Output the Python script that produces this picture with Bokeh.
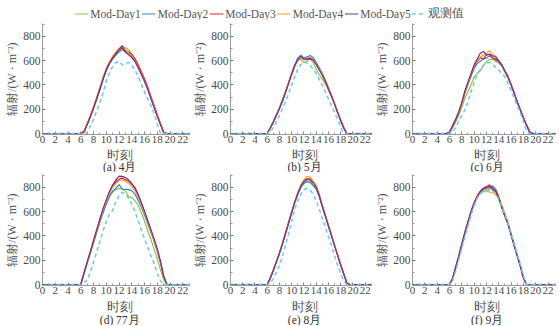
from bokeh.plotting import figure
from bokeh.models import Range1d, Legend, LegendItem, FixedTicker, Label
from bokeh.layouts import column, row
from bokeh.embed import file_html
from bokeh.resources import INLINE

# ---------------- data ----------------
T = [0, 5, 5.5, 6, 6.5, 7, 7.5, 8, 8.5, 9, 9.5, 10, 10.5, 11, 11.5, 12, 12.5,
     13, 13.5, 14, 14.5, 15, 15.5, 16, 16.5, 17, 17.5, 18, 18.5, 19, 19.5, 20, 23.5]

series_names = ["Mod-Day1", "Mod-Day2", "Mod-Day3", "Mod-Day4", "Mod-Day5", "观测值"]
x_ticks = [0, 2, 4, 6, 8, 10, 12, 14, 16, 18, 20, 22]
y_ticks = [0, 200, 400, 600, 800]
panel_titles = ["(a) 4月", "(b) 5月", "(c) 6月", "(d) 77月", "(e) 8月", "(f) 9月"]
x_label = "时刻"
y_label = "辐射/(W · m⁻²)"

apr_day1 = [0,0,0, 0,15,75,140,205,280,360,445,520,578,618,652,688,705,708,690,655,612,555,498,438,372,298,222,150,78,8,0,0,0]
apr_day2 = [0,0,0, 0,18,80,145,210,285,362,445,518,572,612,645,672,690,672,655,630,598,545,490,432,366,292,218,145,75,8,0,0,0]
apr_day3 = [0,0,0, 0,12,72,138,212,290,370,455,528,582,622,660,690,702,682,670,650,615,565,508,448,382,305,228,155,82,12,0,0,0]
apr_day4 = [0,0,0, 0,20,82,150,222,300,382,465,540,595,638,670,700,720,692,662,632,598,548,492,432,368,295,218,148,78,10,0,0,0]
apr_day5 = [0,0,0, 0,15,75,140,212,288,368,452,525,580,622,658,692,722,668,648,625,592,540,485,428,362,288,212,140,72,5,0,0,0]
apr_obs  = [0,0,0, 0,0,10,60,120,185,255,335,430,500,550,585,592,565,578,585,560,520,470,405,340,285,228,160,75,0,0,0,0,0]

may_day1 = [0,0,0, 0,45,95,150,210,285,348,420,492,555,600,612,582,598,612,585,530,485,448,410,362,305,242,172,106,46,0,0,0,0]
may_day2 = [0,0,0, 0,48,100,155,210,275,345,422,498,568,620,645,622,630,642,625,585,540,495,440,378,315,250,180,112,52,2,0,0,0]
may_day3 = [0,0,0, 0,45,95,150,205,270,340,415,490,558,605,628,608,612,612,605,570,528,485,430,370,310,245,175,110,50,0,0,0,0]
may_day4 = [0,0,0, 0,42,92,148,205,270,340,418,492,560,608,630,612,618,625,610,572,530,485,430,370,310,246,176,110,50,0,0,0,0]
may_day5 = [0,0,0, 0,45,95,150,205,270,340,415,490,560,612,635,612,615,620,605,568,525,480,425,365,305,240,170,105,45,0,0,0,0]
may_obs  = [0,0,0, 0,10,50,100,150,205,265,330,400,470,530,570,590,580,560,530,495,445,395,340,285,230,175,115,55,0,0,0,0,0]

jun_day1 = [0,0,0, 5,45,95,150,215,290,345,400,465,492,515,560,590,610,612,592,580,555,505,460,398,328,258,192,128,68,12,0,0,0]
jun_day2 = [0,0,0, 10,58,108,168,242,335,405,472,535,575,595,612,622,640,622,605,588,558,510,465,400,330,260,195,130,70,15,0,0,0]
jun_day3 = [0,0,0, 10,60,112,172,248,340,412,482,552,592,625,612,648,652,622,612,592,562,515,470,405,335,262,196,130,70,15,0,0,0]
jun_day4 = [0,0,0, 10,62,115,175,250,345,418,490,560,600,630,645,660,682,650,640,598,565,512,465,400,330,260,195,130,70,15,0,0,0]
jun_day5 = [0,0,0, 12,65,120,180,258,350,425,495,565,612,660,675,645,652,640,630,600,565,512,462,398,328,258,192,128,68,12,0,0,0]
jun_obs  = [0,0,0, 0,10,50,100,150,195,260,345,420,490,530,560,580,585,570,545,520,495,465,410,355,290,230,170,100,20,0,0,0,0]

jul_day1 = [0,0,0, 0,88,175,258,345,430,512,590,660,720,760,780,790,785,770,722,715,688,650,590,520,440,370,290,210,120,40,0,0,0]
jul_day2 = [0,0,0, 0,88,175,258,345,432,515,595,665,728,770,792,822,785,782,780,772,742,692,635,572,500,428,355,272,178,60,0,0,0]
jul_day3 = [0,0,0, 0,92,182,268,358,448,535,618,690,758,810,845,865,875,862,850,825,790,735,668,598,520,445,368,285,185,65,0,0,0]
jul_day4 = [0,0,0, 0,90,180,265,355,445,530,612,682,750,800,830,855,862,850,830,805,770,718,655,588,512,438,362,280,182,62,0,0,0]
jul_day5 = [0,0,0, 0,95,185,272,362,452,540,625,698,765,820,858,892,890,880,860,830,795,740,672,602,525,450,373,290,190,70,0,0,0]
jul_obs  = [0,0,0, 0,10,40,99,185,270,355,440,520,580,610,680,730,760,740,710,660,600,525,450,373,305,236,170,90,30,0,0,0,0]

aug_day1 = [0,0,0, 0,50,115,185,255,335,420,505,590,675,745,800,830,845,840,815,788,725,642,562,480,400,318,240,160,86,12,0,0,0]
aug_day2 = [0,0,0, 0,52,118,186,256,335,420,505,590,672,742,798,835,850,840,815,785,722,638,560,478,398,318,240,160,86,12,0,0,0]
aug_day3 = [0,0,0, 0,55,120,190,260,340,425,512,598,682,752,812,855,870,870,845,808,738,648,568,486,406,322,244,165,90,15,0,0,0]
aug_day4 = [0,0,0, 0,55,120,190,262,342,428,515,600,685,758,818,862,890,885,850,815,740,650,570,488,408,325,245,165,90,15,0,0,0]
aug_day5 = [0,0,0, 0,52,118,188,258,338,422,508,595,680,750,808,850,865,860,835,800,732,645,565,482,402,320,242,162,88,12,0,0,0]
aug_obs  = [0,0,0, 0,10,50,100,160,236,325,420,520,620,690,745,780,790,775,745,690,620,545,470,395,320,236,160,90,30,0,0,0,0]

sep_day1 = [0,0,0, 0,45,132,222,322,418,502,592,662,718,755,775,782,790,775,760,705,630,560,498,408,318,234,148,52,0,0,0,0,0]
sep_day2 = [0,0,0, 0,48,135,225,325,420,505,595,665,722,762,785,792,798,812,785,722,640,565,502,412,322,238,152,58,0,0,0,0,0]
sep_day3 = [0,0,0, 0,50,140,232,332,428,515,602,672,728,768,792,805,820,782,762,712,635,562,500,410,320,236,150,55,0,0,0,0,0]
sep_day4 = [0,0,0, 0,45,130,220,320,415,500,590,660,715,750,765,770,760,755,740,700,652,585,515,420,328,240,152,55,0,0,0,0,0]
sep_day5 = [0,0,0, 0,52,142,235,335,430,515,602,672,726,765,790,800,805,795,770,712,632,560,498,408,318,234,148,52,0,0,0,0,0]
sep_obs  = [0,0,0, 0,30,110,200,300,390,480,570,650,710,745,765,775,780,770,750,700,640,570,500,420,335,250,160,70,0,0,0,0,0]

panel_series = [
    [apr_day1, apr_day2, apr_day3, apr_day4, apr_day5, apr_obs],
    [may_day1, may_day2, may_day3, may_day4, may_day5, may_obs],
    [jun_day1, jun_day2, jun_day3, jun_day4, jun_day5, jun_obs],
    [jul_day1, jul_day2, jul_day3, jul_day4, jul_day5, jul_obs],
    [aug_day1, aug_day2, aug_day3, aug_day4, aug_day5, aug_obs],
    [sep_day1, sep_day2, sep_day3, sep_day4, sep_day5, sep_obs],
]

# ---------------- style ----------------
colors = ["#8cc63f", "#2e86d6", "#e41e26", "#f7a229", "#7a2e8e", "#6cc8ef"]
widths = [1.2, 1.2, 1.2, 1.2, 1.2, 1.5]
dashes = ["solid", "solid", "solid", "solid", "solid", "4 3"]
SERIF = "Liberation Serif"
TXT = "#4a4a4a"

Y0, Y1 = -8, 905
X0, X1 = 0, 23.2
FRAME_W = 148
# per column: (left border, right border)
COLS = [(42, 0), (34, 0), (35, 3)]


def make_plot(idx, col, top_b, frame_h):
    lb, rb = COLS[col]
    p = figure(width=lb + FRAME_W + rb, height=top_b + frame_h + 15,
               x_range=Range1d(X0, X1), y_range=Range1d(Y0, Y1),
               output_backend="svg", toolbar_location=None,
               min_border_left=lb, min_border_right=rb, min_border_top=top_b,
               min_border_bottom=15)
    p.outline_line_color = None
    p.grid.visible = False
    for data, c, w, d in zip(panel_series[idx], colors, widths, dashes):
        p.line(T, data, line_color=c, line_width=w, line_dash=d)

    xa = p.xaxis[0]
    xa.ticker = FixedTicker(ticks=x_ticks, minor_ticks=list(range(0, 24)))
    ya = p.yaxis[0]
    ya.ticker = FixedTicker(ticks=y_ticks, minor_ticks=[100, 300, 500, 700, 900])
    for ax in (xa, ya):
        ax.axis_line_color = "#9a9a9a"
        ax.major_tick_line_color = "#777777"
        ax.minor_tick_line_color = "#999999"
        ax.major_tick_in = 3
        ax.major_tick_out = 0
        ax.minor_tick_in = 2
        ax.minor_tick_out = 0
        ax.major_label_text_font = SERIF
        ax.major_label_text_font_size = "11.5px"
        ax.major_label_text_color = TXT
        ax.major_label_standoff = 2
    xa.major_label_text_font_size = "11px"
    xa.major_label_standoff = 1
    ya.axis_label = y_label
    ya.axis_label_text_font = SERIF
    ya.axis_label_text_font_size = "12px"
    ya.axis_label_text_font_style = "normal"
    ya.axis_label_text_color = "#555555"
    ya.axis_label_standoff = 1
    return p


def make_caption(idx, col, h, lab_y, title_y):
    lb, rb = COLS[col]
    c = figure(width=lb + FRAME_W + rb, height=h, x_range=Range1d(X0, X1),
               y_range=Range1d(0, h), x_axis_type=None, y_axis_type=None,
               output_backend="svg", toolbar_location=None,
               min_border_left=lb, min_border_right=rb, min_border_top=0,
               min_border_bottom=0)
    c.grid.visible = False
    c.outline_line_color = None
    c.add_layout(Label(x=12.1, y=lab_y, text=x_label, text_align="center",
                       text_baseline="middle", text_font=SERIF, text_font_size="12.5px",
                       text_color="#555555"))
    c.add_layout(Label(x=12.1, y=title_y, text=panel_titles[idx], text_align="center",
                       text_baseline="middle", text_font=SERIF, text_font_size="11.5px",
                       text_color="#333333"))
    return c


# legend strip
lg = figure(width=558, height=20, x_range=Range1d(0, 1), y_range=Range1d(0, 1),
            x_axis_type=None, y_axis_type=None,
            output_backend="svg", toolbar_location=None,
            min_border_left=0, min_border_right=20, min_border_top=6, min_border_bottom=0)
lg.grid.visible = False
lg.outline_line_color = None
items = []
for name, c, w, d in zip(series_names, colors, widths, dashes):
    r = lg.line([-5, -4], [-5, -4], line_color=c, line_width=w, line_dash=d)
    items.append(LegendItem(label=name, renderers=[r]))
legend = Legend(items=items, orientation="horizontal", location="center",
                border_line_color=None, background_fill_alpha=0, padding=0, margin=0,
                spacing=1, glyph_width=14, glyph_height=10, label_height=10, label_width=10,
                label_standoff=2, label_text_font=SERIF, label_text_font_size="11.5px",
                label_text_color="#555555")
lg.add_layout(legend)

top = row([column(make_plot(i, i, 3, 111), make_caption(i, i, 23, 18, 6))
           for i in range(3)])
bottom = row([column(make_plot(i + 3, i, 2, 111), make_caption(i + 3, i, 25, 19, 6))
              for i in range(3)])
layout = column(lg, top, bottom)

open("out.html", "w").write(file_html(layout, INLINE))
